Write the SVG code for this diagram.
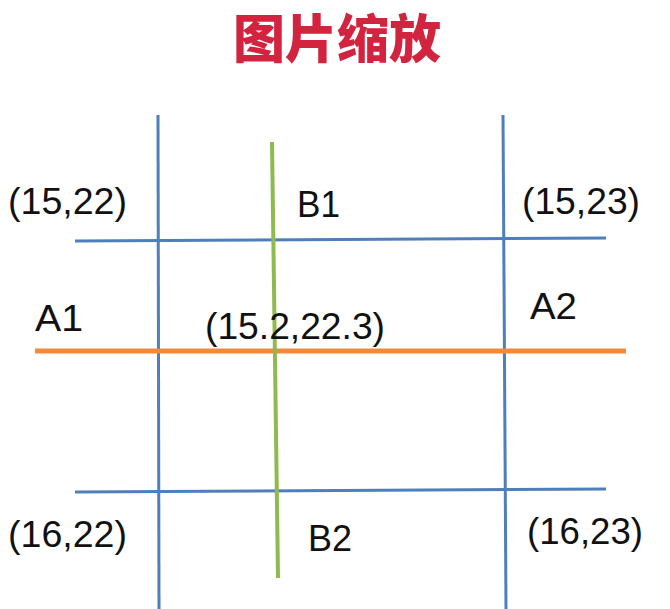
<svg xmlns="http://www.w3.org/2000/svg" width="670" height="609" viewBox="0 0 670 609">
<style>
.t{font-family:"Liberation Sans","Noto Sans CJK SC",sans-serif;font-size:37px;fill:#111}
.title{font-family:"Noto Sans CJK SC","Liberation Sans",sans-serif;font-size:52px;font-weight:900;fill:#d2233f}
.blue{stroke:#4f7fbb;stroke-width:3;fill:none}
.orange{stroke:#f28a3c;stroke-width:5;fill:none}
.green{stroke:#8fba4f;stroke-width:4;fill:none}
</style>
<rect width="670" height="609" fill="#fff"/>
<g id="title"><text class="title" x="337" y="58" text-anchor="middle">图片缩放</text></g>
<g id="lines">
<line class="blue" x1="158" y1="115" x2="159" y2="609"/>
<line class="blue" x1="503" y1="115" x2="506" y2="609"/>
<line class="blue" x1="75" y1="241" x2="606" y2="238"/>
<line class="blue" x1="75" y1="492" x2="606" y2="489"/>
<line class="orange" x1="35" y1="351" x2="626" y2="351"/>
<line class="green" x1="272" y1="142" x2="278" y2="578"/>
</g>
<g id="labels">
<text class="t" x="8" y="214" textLength="119" lengthAdjust="spacingAndGlyphs">(15,22)</text>
<text class="t" x="297" y="217" textLength="43" lengthAdjust="spacingAndGlyphs">B1</text>
<text class="t" x="522" y="214" textLength="118" lengthAdjust="spacingAndGlyphs">(15,23)</text>
<text class="t" x="35" y="331" textLength="48" lengthAdjust="spacingAndGlyphs">A1</text>
<text class="t" x="205" y="339" textLength="180" lengthAdjust="spacingAndGlyphs">(15.2,22.3)</text>
<text class="t" x="530" y="319" textLength="47" lengthAdjust="spacingAndGlyphs">A2</text>
<text class="t" x="8" y="547" textLength="119" lengthAdjust="spacingAndGlyphs">(16,22)</text>
<text class="t" x="308" y="551" textLength="44" lengthAdjust="spacingAndGlyphs">B2</text>
<text class="t" x="527" y="544" textLength="116" lengthAdjust="spacingAndGlyphs">(16,23)</text>
</g>
</svg>
